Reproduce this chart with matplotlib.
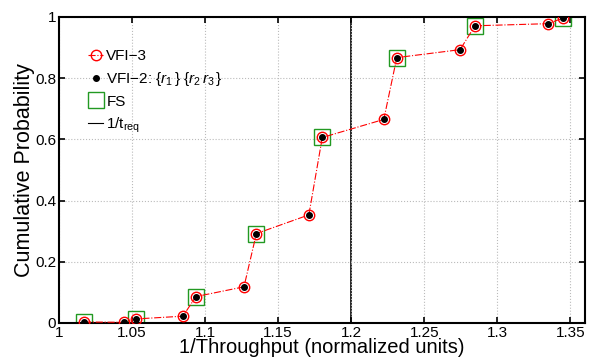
import numpy as np
import matplotlib.pyplot as plt
from matplotlib.lines import Line2D

plt.rcParams['font.family'] = ['Liberation Sans', 'DejaVu Sans']
plt.rcParams['mathtext.fontset'] = 'custom'
plt.rcParams['mathtext.it'] = 'Liberation Sans:italic'
plt.rcParams['mathtext.rm'] = 'Liberation Sans'

# CDF of 1/throughput for each configuration
inv_tput = [1.0171, 1.0445, 1.0527, 1.0848, 1.0937, 1.1266, 1.1351, 1.1710,
            1.1802, 1.2223, 1.2312, 1.2745, 1.2847, 1.3350, 1.3452]
cum_prob = [0.003, 0.002, 0.013, 0.022, 0.086, 0.118, 0.292, 0.353,
            0.606, 0.665, 0.867, 0.893, 0.971, 0.978, 0.997]
fs_idx = [0, 2, 4, 6, 8, 10, 12, 14]
t_req_inv = 1.2

x = np.array(inv_tput)
y = np.array(cum_prob)

fig = plt.figure(figsize=(5.9, 3.6), dpi=100)
ax = fig.add_axes([0.1, 0.103, 0.8915, 0.85])

ax.plot(x, y, color='red', ls='-.', lw=0.8, marker='o', ms=7.5,
        mfc='none', mec='red', mew=1.0, zorder=3)
ax.plot(x, y, ls='none', marker='o', ms=4, color='black', zorder=4)
ax.plot(x[fs_idx], y[fs_idx], ls='none', marker='s', ms=11.5,
        mfc='none', mec='#229922', mew=1.0, zorder=2)
ax.axvline(t_req_inv, color='black', lw=1.2, zorder=1)

ax.set_xlim(1, 1.36)
ax.set_ylim(0, 1)
ax.set_xticks([1, 1.05, 1.1, 1.15, 1.2, 1.25, 1.3, 1.35])
ax.set_xticklabels(['1', '1.05', '1.1', '1.15', '1.2', '1.25', '1.3', '1.35'])
ax.set_yticks([0, 0.2, 0.4, 0.6, 0.8, 1])
ax.set_yticklabels(['0', '0.2', '0.4', '0.6', '0.8', '1'])
ax.tick_params(direction='in', top=True, right=True, labelsize=11, width=1.2, length=4)
ax.tick_params(axis='x', pad=2)
ax.tick_params(axis='y', pad=2)
ax.grid(True, ls=':', color='#bbbbbb', lw=0.8)
for s in ax.spines.values():
    s.set_linewidth(1.5)

ax.set_xlabel('1/Throughput (normalized units)', fontsize=14.5, labelpad=-1)
ax.set_ylabel('Cumulative Probability', fontsize=15.5, labelpad=0)

handles = [
    Line2D([], [], color='red', ls='-.', lw=0.8, marker='o', ms=7.5, mfc='none', mec='red'),
    Line2D([], [], ls='none', marker='o', ms=4, color='black'),
    Line2D([], [], ls='none', marker='s', ms=11.5, mfc='none', mec='#229922'),
    Line2D([], [], color='black', lw=0.8),
]
labels = ['VFI\u22123', 'VFI\u22122: $\\{r_1\\,\\}\\ \\{r_2\\,r_3\\,\\}$', 'FS', '1/t$_{\\mathrm{req}}$']
ax.legend(handles, labels, loc='upper left', bbox_to_anchor=(0.035, 0.93), frameon=False,
          fontsize=11, handlelength=1.0, handletextpad=0.2, labelspacing=0.45,
          borderaxespad=0.3)

fig.savefig('out.png', dpi=100)
